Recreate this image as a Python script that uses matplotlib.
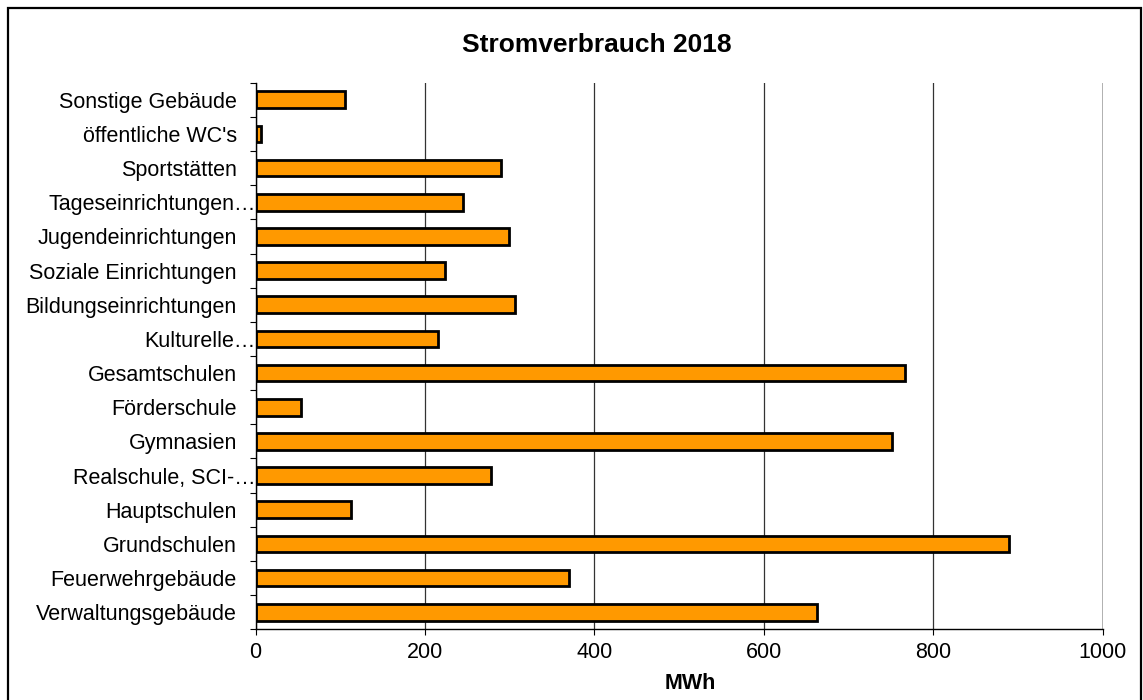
import matplotlib
matplotlib.use("Agg")
import matplotlib.pyplot as plt
import matplotlib.patches as mpatches
from matplotlib.transforms import ScaledTranslation
import numpy as np

plt.rcParams['font.family'] = ['Liberation Sans', 'DejaVu Sans']

categories = ["Verwaltungsgebäude", "Feuerwehrgebäude", "Grundschulen", "Hauptschulen",
              "Realschule, SCI-…", "Gymnasien", "Förderschule", "Gesamtschulen",
              "Kulturelle…", "Bildungseinrichtungen", "Soziale Einrichtungen",
              "Jugendeinrichtungen", "Tageseinrichtungen…", "Sportstätten",
              "öffentliche WC's", "Sonstige Gebäude"]
values = [663, 370, 890, 113, 278, 751, 54, 767, 215, 306, 224, 299, 245, 290, 7, 106]
truncated = ["Realschule, SCI-…", "Kulturelle…", "Tageseinrichtungen…"]
xticks = [0, 200, 400, 600, 800, 1000]

W, H = 1143, 700
fig = plt.figure(figsize=(W / 100, H / 100), dpi=100)
ax = fig.add_axes([255.5 / W, 1 - 629.3 / H, (1102.5 - 255.5) / W, (629.3 - 82.7) / H])

y = np.arange(len(categories))
ax.barh(y, values, height=0.49, color='#FF9900', edgecolor='black', linewidth=2.0, zorder=3)

ax.set_xlim(0, 1000)
ax.set_ylim(-0.5, len(categories) - 0.5)
ax.set_xticks(xticks)
ax.set_xticklabels([str(t) for t in xticks], fontsize=15.5)
ax.set_yticks(y)
ax.set_yticklabels(categories, fontsize=15.5)
ax.set_yticks(np.arange(-0.5, len(categories), 1.0), minor=True)
ax.tick_params(axis='y', which='major', length=0, pad=13.5)
ax.tick_params(axis='y', which='minor', length=4, width=0.8, color='black', direction='out')
ax.tick_params(axis='x', which='major', length=4.5, width=0.8, color='black', pad=5)

for lbl in ax.get_yticklabels():
    if lbl.get_text() in truncated:
        lbl.set_transform(lbl.get_transform() + ScaledTranslation(0.19, 0, fig.dpi_scale_trans))

ax.xaxis.grid(True, color='#333333', linewidth=0.9, zorder=0)
for gl, t in zip(ax.get_xgridlines(), xticks):
    if t == 1000:
        gl.set_color('#b0b0b0')
        gl.set_linewidth(1.4)
for tk, t in zip(ax.xaxis.get_major_ticks(), xticks):
    if t == 1000:
        tk.tick1line.set_color('#b0b0b0')
ax.set_axisbelow(True)

for s in ['top', 'right']:
    ax.spines[s].set_visible(False)
for s in ['left', 'bottom']:
    ax.spines[s].set_color('black')
    ax.spines[s].set_linewidth(1.0)
    ax.spines[s].set_zorder(4)

fig.text(596.7 / W, 1 - 51.7 / H, "Stromverbrauch 2018", fontsize=19, fontweight='bold',
         ha='center', va='baseline')
fig.text(690 / W, 1 - 689 / H, "MWh", fontsize=15.5, fontweight='bold', ha='center', va='baseline')

frame = mpatches.Rectangle((8 / W, -0.05), (1141 - 8) / W, 1 - 8 / H + 0.05,
                           transform=fig.transFigure, fill=False, edgecolor='black',
                           linewidth=1.6, zorder=10)
fig.patches.append(frame)

fig.savefig("out.png", dpi=100)
